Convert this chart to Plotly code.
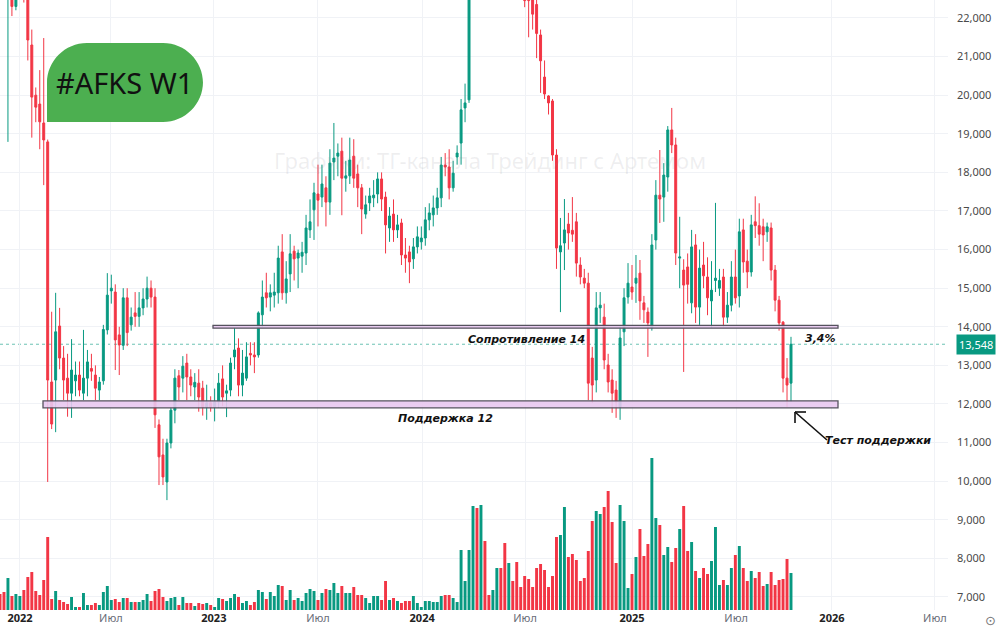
import plotly.graph_objects as go

# ---------------- DATA (weekly bars, AFKS W1) ----------------
opens = [24.0, 23.4, 22.8, 23.0, 22.3, 22.7, 23.3, 22.7, 21.3, 20.0,
         19.77, 19.28, 18.79, 12.57, 12.62, 14.02, 13.19, 12.67, 12.28, 12.6,
         12.75, 12.28, 12.67, 12.92, 12.75, 12.36, 12.6, 13.92, 14.93, 14.90,
         13.79, 13.52, 14.75, 14.05, 14.36, 14.27, 14.49, 14.72, 15.0, 14.77,
         11.46, 10.68, 9.98, 10.99, 11.84, 12.73, 12.67, 13.06, 12.70, 12.44,
         12.54, 12.41, 11.92, 12.03, 11.92, 12.05, 12.65, 12.28, 12.36, 13.22,
         13.45, 12.49, 12.67, 13.31, 13.27, 13.27, 14.31, 14.88, 14.77, 14.82,
         14.88, 15.94, 14.88, 15.37, 15.96, 15.78, 15.83, 15.91, 16.51, 17.03,
         17.44, 17.36, 17.60, 17.23, 18.27, 18.42, 18.55, 17.85, 17.91, 18.42,
         17.96, 17.60, 16.92, 17.21, 17.34, 17.44, 17.83, 17.36, 16.56, 16.92,
         16.51, 16.69, 15.86, 15.94, 15.76, 16.07, 16.2, 16.30, 16.77, 16.90,
         17.08, 17.34, 18.19, 18.14, 17.60, 18.40, 18.76, 19.67, 19.88, 23.2,
         24.6, 24.0, 25.3, 24.6, 24.3, 24.8, 25.5, 24.9, 24.0, 24.5,
         24.1, 23.6, 23.1, 22.6, 22.55, 22.35, 21.56, 20.47, 19.98, 19.85,
         18.45, 15.94, 16.17, 16.66, 16.5, 16.72, 15.60, 15.26, 15.13, 13.19,
         12.62, 14.49, 14.25, 13.01, 12.62, 12.36, 11.92, 13.87, 14.77, 15.03,
         15.13, 15.39, 14.62, 14.38, 13.97, 16.25, 17.41, 17.36, 17.88, 19.10,
         18.71, 15.78, 15.47, 15.55, 14.62, 16.12, 14.51, 15.60, 15.29, 14.67,
         15.2, 15.0, 15.29, 14.25, 14.56, 15.29, 14.8, 16.51, 15.70, 15.42,
         16.72, 16.62, 16.59, 16.46, 16.56, 15.47, 14.69, 14.12, 12.67, 12.54]
highs = [24.3, 23.7, 23.6, 23.2, 22.9, 23.6, 23.5, 22.9, 21.7, 20.2,
         20.65, 21.48, 18.85, 14.39, 14.88, 14.49, 13.5, 13.3, 13.68, 13.1,
         13.1, 13.92, 13.4, 13.3, 13.0, 12.7, 14.05, 15.39, 15.35, 15.1,
         14.0, 15.0, 15.0, 14.5, 14.9, 14.9, 15.0, 15.3, 15.2, 15.0,
         11.6, 11.1, 11.1, 11.9, 12.9, 12.88, 13.24, 13.3, 12.9, 12.8,
         12.9, 12.6, 12.5, 12.2, 12.4, 12.8, 13.0, 12.5, 13.2, 13.97,
         13.7, 13.4, 13.6, 13.6, 13.6, 14.4, 15.2, 15.4, 15.1, 15.4,
         16.1, 16.4, 15.7, 16.4, 16.1, 16.0, 16.2, 16.9, 17.3, 17.73,
         18.2, 18.2, 17.9, 18.6, 19.28, 18.75, 18.9, 18.3, 18.9, 18.86,
         18.2, 17.7, 17.4, 17.6, 17.8, 18.0, 18.0, 17.5, 17.1, 17.3,
         16.9, 16.8, 16.3, 16.1, 16.3, 16.6, 16.6, 17.1, 17.2, 17.4,
         17.6, 18.4, 18.5, 18.6, 18.3, 18.7, 19.9, 20.3, 23.6, 25.0,
         25.2, 25.8, 25.6, 24.9, 25.1, 25.9, 25.7, 25.0, 24.8, 24.7,
         24.3, 23.8, 23.3, 22.9, 22.7, 22.5, 21.7, 20.9, 20.0, 19.9,
         18.6, 16.82, 17.31, 16.95, 17.36, 16.95, 15.8, 15.5, 15.4, 13.48,
         14.9, 14.9, 14.6, 13.3, 12.9, 12.6, 14.0, 15.0, 15.65, 15.6,
         15.86, 15.73, 14.8, 14.5, 16.4, 17.8, 18.58, 18.24, 19.2, 19.67,
         18.9, 16.85, 15.75, 15.9, 16.51, 16.4, 16.0, 16.2, 15.8, 15.7,
         17.21, 15.5, 15.5, 14.9, 15.7, 16.0, 16.8, 16.8, 16.0, 16.9,
         17.38, 17.2, 16.8, 16.7, 16.7, 15.6, 14.8, 14.15, 13.19, 13.74]
lows = [23.0, 22.6, 18.79, 22.05, 22.2, 22.5, 22.4, 20.9, 18.9, 19.3,
        18.6, 17.67, 9.98, 11.35, 11.27, 12.9, 12.1, 11.67, 11.64, 12.2,
        12.2, 12.1, 12.2, 12.6, 12.1, 12.1, 12.5, 13.8, 14.6, 12.88,
        12.75, 13.4, 13.5, 13.9, 14.0, 14.0, 14.3, 14.5, 14.5, 11.38,
        9.90, 9.9, 9.51, 10.85, 11.5, 12.1, 12.3, 12.1, 12.2, 12.1,
        11.8, 11.7, 11.59, 11.8, 11.55, 11.9, 11.95, 11.66, 12.2, 12.9,
        12.2, 12.2, 12.6, 13.0, 12.8, 13.2, 14.0, 14.5, 14.4, 14.5,
        14.6, 14.7, 14.6, 14.9, 15.2, 15.0, 15.4, 15.6, 16.3, 16.25,
        16.6, 17.1, 16.6, 16.9, 17.8, 17.9, 16.89, 17.5, 17.7, 17.6,
        17.1, 16.4, 16.8, 17.0, 17.1, 17.2, 17.0, 15.9, 16.2, 16.2,
        16.3, 15.6, 15.4, 15.13, 15.5, 15.9, 16.0, 16.1, 16.5, 16.6,
        16.9, 17.1, 17.9, 17.3, 17.5, 18.2, 18.2, 19.3, 19.8, 23.0,
        23.5, 23.8, 24.2, 23.9, 24.0, 24.6, 24.6, 23.6, 23.7, 23.8,
        23.2, 22.6, 22.28, 21.5, 21.7, 20.96, 20.06, 19.9, 19.5, 18.3,
        15.5, 14.38, 15.47, 16.0, 16.2, 15.3, 15.1, 15.0, 12.1, 12.03,
        12.3, 14.1, 12.9, 12.3, 11.77, 11.64, 11.59, 13.5, 14.6, 14.7,
        14.62, 14.18, 14.1, 13.22, 13.9, 16.0, 16.69, 16.72, 17.5, 18.5,
        15.6, 15.0, 12.83, 14.6, 14.35, 14.1, 14.05, 15.0, 14.3, 13.97,
        14.9, 14.8, 14.0, 14.1, 14.4, 14.6, 14.5, 15.4, 15.0, 15.3,
        16.3, 16.1, 15.7, 16.2, 15.2, 14.4, 13.9, 12.3, 11.92, 12.05]
closes = [23.4, 22.8, 23.2, 22.3, 22.7, 23.3, 22.7, 21.43, 19.95, 19.69,
          19.31, 18.84, 12.62, 11.48, 13.87, 13.19, 12.62, 12.28, 12.88, 12.75,
          12.36, 12.67, 13.09, 12.85, 12.41, 12.57, 13.93, 14.82, 15.0, 13.66,
          13.53, 14.75, 13.85, 14.25, 14.27, 14.49, 14.72, 15.0, 14.77, 11.72,
          10.63, 10.11, 10.99, 11.84, 12.67, 12.44, 12.98, 12.70, 12.49, 12.56,
          12.18, 11.92, 12.03, 11.92, 12.05, 12.54, 12.18, 12.34, 13.06, 13.40,
          12.49, 12.80, 13.22, 13.27, 13.22, 14.36, 14.77, 14.75, 14.88, 14.90,
          15.78, 14.88, 15.24, 15.89, 15.76, 15.91, 15.93, 16.56, 16.72, 17.47,
          17.28, 17.70, 17.23, 18.24, 18.37, 18.50, 17.85, 17.91, 18.32, 17.85,
          17.60, 17.05, 17.16, 17.39, 17.41, 17.83, 17.31, 16.64, 16.87, 16.51,
          16.64, 15.86, 15.78, 15.68, 16.07, 16.33, 16.3, 16.77, 16.95, 17.08,
          17.34, 18.19, 18.14, 17.60, 17.98, 18.50, 19.62, 19.80, 23.2, 24.6,
          24.0, 25.3, 24.6, 24.3, 24.8, 25.5, 24.9, 24.0, 24.5, 24.1,
          23.6, 23.1, 22.45, 22.45, 22.1, 21.6, 20.89, 20.03, 19.80, 18.45,
          16.04, 16.10, 16.51, 16.43, 16.4, 15.65, 15.29, 15.13, 12.54, 12.49,
          14.49, 14.56, 13.14, 12.57, 12.28, 12.05, 13.71, 14.75, 15.13, 14.90,
          15.26, 14.67, 14.44, 14.10, 16.12, 17.41, 17.31, 17.93, 19.10, 18.71,
          15.91, 15.81, 15.08, 15.1, 16.07, 14.51, 15.52, 15.32, 14.75, 14.95,
          15.26, 15.2, 14.25, 14.56, 15.29, 14.75, 16.46, 15.68, 15.42, 16.64,
          16.62, 16.4, 16.38, 16.59, 15.47, 14.69, 14.10, 12.67, 12.49, 13.548]
volume_mln = [16, 18, 32, 14, 16, 14, 20, 33, 38, 19,
              15, 30, 73, 11, 19, 10, 8, 6, 13, 3,
              3, 17, 5, 5, 7, 5, 18, 24, 10, 11,
              8, 12, 12, 8, 8, 8, 10, 16, 9, 19,
              21, 13, 9, 12, 13, 5, 13, 7, 7, 4,
              7, 6, 7, 5, 3, 12, 11, 9, 12, 16,
              13, 7, 9, 5, 8, 20, 18, 11, 18, 14,
              25, 24, 10, 20, 10, 12, 9, 17, 21, 19,
              10, 17, 21, 20, 27, 17, 24, 17, 17, 23,
              15, 15, 12, 7, 14, 14, 10, 29, 10, 12,
              9, 7, 9, 9, 14, 7, 3, 9, 9, 8,
              8, 14, 15, 15, 12, 8, 60, 29, 60, 104,
              102, 105, 69, 15, 20, 42, 42, 67, 47, 29,
              48, 23, 34, 31, 23, 42, 46, 40, 23, 34,
              73, 75, 103, 53, 56, 50, 29, 32, 59, 89,
              99, 96, 103, 119, 88, 47, 105, 89, 22, 36,
              53, 81, 54, 66, 152, 92, 85, 55, 63, 48,
              62, 81, 104, 59, 68, 39, 32, 42, 36, 49,
              83, 25, 30, 25, 42, 55, 64, 42, 29, 39,
              32, 38, 24, 26, 38, 25, 30, 31, 51, 37]

tick_pos = [5.03, 27.9, 53.8, 80.0, 106.2, 132.1, 159.0, 185.2, 209.3, 235.2]
tick_labels = ["2022", "Июл", "2023", "Июл", "2024", "Июл", "2025", "Июл", "2026", "Июл"]
price_ticks = list(range(7, 23))
last_price = closes[-1]
resistance = 14.0
support_lo, support_hi = 11.90, 12.08

# ---------------- GEOMETRY ----------------
W, H = 1000, 632
ML, MR, MT, MB = 0, 52, 0, 22
PW, PH = W - ML - MR, H - MT - MB
Y0, Y1 = 6.663, 22.466
X0, X1 = 0.0, 238.5

def px2x(px):
    return X0 + px / PW * (X1 - X0)

def pxp(px):
    return px / PW

def pyp(py):
    return 1 - py / PH

UP, DOWN = "#089981", "#F23645"
idx = list(range(len(closes)))
vol_colors = [UP if c >= o else DOWN for o, c in zip(opens, closes)]

fig = go.Figure()
fig.add_trace(go.Candlestick(
    x=idx, open=opens, high=highs, low=lows, close=closes,
    increasing=dict(line=dict(color=UP, width=1), fillcolor=UP),
    decreasing=dict(line=dict(color=DOWN, width=1), fillcolor=DOWN),
    whiskerwidth=0, showlegend=False, hoverinfo="skip"))
fig.add_trace(go.Bar(x=idx, y=volume_mln, marker=dict(color=vol_colors, line=dict(width=0)),
                     width=0.74, yaxis="y2", showlegend=False, hoverinfo="skip"))

shapes = []
shapes.append(dict(type="rect", xref="x", yref="y", x0=px2x(43), x1=px2x(838),
                   y0=support_lo, y1=support_hi, line=dict(color="#55525e", width=1.3),
                   fillcolor="rgba(232,200,240,0.9)", layer="above"))
shapes.append(dict(type="rect", xref="x", yref="y", x0=px2x(213), x1=px2x(838),
                   y0=resistance - 0.035, y1=resistance + 0.035, line=dict(color="#55525e", width=1.3),
                   fillcolor="rgba(232,200,240,0.9)", layer="above"))
shapes.append(dict(type="line", xref="paper", yref="y", x0=0, x1=1, y0=last_price, y1=last_price,
                   line=dict(color="rgba(8,153,129,0.6)", width=1, dash="dot"), layer="below"))
# green title box
l, t, r, b = 47, 43, 203, 122
rad = 40
k = 0.552 * rad
path = (f"M {pxp(l)},{pyp(b)} L {pxp(l)},{pyp(t+rad)} "
        f"C {pxp(l)},{pyp(t+rad-k)} {pxp(l+rad-k)},{pyp(t)} {pxp(l+rad)},{pyp(t)} "
        f"L {pxp(r-rad)},{pyp(t)} "
        f"C {pxp(r-rad+k)},{pyp(t)} {pxp(r)},{pyp(t+rad-k)} {pxp(r)},{pyp(t+rad)} "
        f"L {pxp(r)},{pyp(b-rad)} "
        f"C {pxp(r)},{pyp(b-rad+k)} {pxp(r-rad+k)},{pyp(b)} {pxp(r-rad)},{pyp(b)} Z")
shapes.append(dict(type="path", xref="paper", yref="paper", path=path,
                   fillcolor="#4caf50", line=dict(width=0), layer="above"))
# arrow "Тест поддержки"
hx, hy = 795, 412
for (x1, y1) in [(827, 440), (hx, hy + 11), (hx + 11, hy)]:
    shapes.append(dict(type="line", xref="paper", yref="paper", x0=pxp(hx), y0=pyp(hy),
                       x1=pxp(x1), y1=pyp(y1), line=dict(color="#111", width=1.6)))

lab_font = dict(family="DejaVu Sans", size=11, color="#111")

def note(text, px, py, font, **kw):
    d = dict(text=text, xref="paper", yref="paper", x=pxp(px), y=pyp(py),
             xanchor="center", yanchor="middle", showarrow=False, font=font)
    d.update(kw)
    return d

annotations = [
    note("#AFKS W1", 124, 83, dict(family="Noto Sans", size=29, color="#111")),
    note("Графики: ТГ-канала Трейдинг с Артемом", 490, 160,
         dict(family="Noto Sans", size=22, color="rgba(120,123,134,0.12)")),
    note("<b><i>Сопротивление 14</i></b>", 526, 339, lab_font),
    note("<b><i>Поддержка 12</i></b>", 445, 418, lab_font),
    note("<b><i>3,4%</i></b>", 820, 338, lab_font),
    note("<b><i>Тест поддержки</i></b>", 878, 440, dict(family="DejaVu Sans", size=11, color="#111")),
    note("⊙", 990, 620, dict(family="DejaVu Sans", size=13, color="#777")),
    dict(text=f"{last_price:.3f}".replace(".", ","), xref="paper", yref="y", x=pxp(956), y=last_price,
         xanchor="left", yanchor="middle", showarrow=False, bgcolor=UP, borderpad=2,
         font=dict(family="Noto Sans", size=11, color="white")),
]

ticktext = [f"<b>{s}</b>" if s.isdigit() else f"<span style='color:#6a6d78'>{s}</span>" for s in tick_labels]

fig.update_layout(
    width=W, height=H, margin=dict(l=ML, r=MR, t=MT, b=MB),
    paper_bgcolor="white", plot_bgcolor="white",
    separators=",.",
    shapes=shapes, annotations=annotations,
    xaxis=dict(range=[X0, X1], tickvals=tick_pos, ticktext=ticktext, showgrid=True,
               gridcolor="#f0f2f6", gridwidth=1, zeroline=False, showline=False, ticks="",
               tickfont=dict(family="Noto Sans", size=11, color="#222"),
               rangeslider=dict(visible=False), fixedrange=True),
    yaxis=dict(range=[Y0, Y1], side="right", tickvals=price_ticks, tickformat=".3f",
               showgrid=True, gridcolor="#f0f2f6", gridwidth=1, zeroline=False, showline=False,
               ticks="", ticklabelstandoff=8,
               tickfont=dict(family="Noto Sans", size=11, color="#4a4a4a")),
    yaxis2=dict(range=[0, PH], overlaying="y", visible=False, showgrid=False),
    showlegend=False,
)

fig.write_html("out.html")
